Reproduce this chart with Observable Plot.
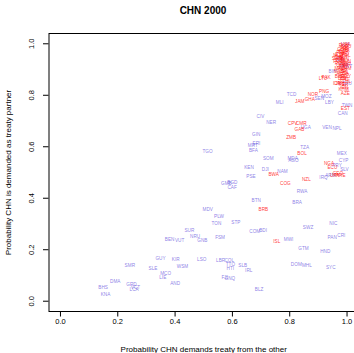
<!DOCTYPE html>
<html><head><meta charset="utf-8">
<script src="https://cdn.jsdelivr.net/npm/d3@7"></script>
<script src="https://cdn.jsdelivr.net/npm/@observablehq/plot@0.6"></script>
<style>
html,body{margin:0;padding:0;background:#fff;overflow:hidden;font-family:"Liberation Sans",Arial,Helvetica,sans-serif}
#title{width:406px;height:22px;line-height:22px;text-align:center;font-weight:bold;font-size:10px;color:#000}
</style></head><body>
<div id="title">CHN 2000</div>
<div id="chart"></div>
<script>
const titleText = "CHN 2000";
const xLabel = "Probability CHN demands treaty from the other";
const yLabel = "Probability CHN is demanded as treaty partner";
const xTicks = [0, 0.2, 0.4, 0.6, 0.8, 1.0];
const yTicks = [0, 0.2, 0.4, 0.6, 0.8, 1.0];

// Countries CHN does not demand (blue)
const blueCodes = ["KNA","BHS","DMA","GRD","VCT","LCA","SMR","SLE","GUY","KIR","WSM","MCO","LIE","AND","LSO","BEN","VUT","NRU","GNB","SUR","FSM","TON","PLW","MDV","STP","COM","BDI","BTN","LBR","COL","TTO","HTI","SLB","IRL","FJI","GNQ","BLZ","MWI","GTM","DOM","MHL","SWZ","NIC","PAN","CRI","HND","SYC","BRA","RWA","IRQ","GMB","BGD","CAF","PSE","KEN","DJI","NAM","SOM","MDA","AGO","TZA","TGO","BFA","MRT","ERI","GIN","CIV","NER","UGA","VEN","NPL","MEX","CYP","SLV","PRY","ARM","TCD","MLI","SEN","MOZ","LBY","TWN","CAN","BIH","SAU","LUX","ISR","QAT","KWT"];
const blueX = [0.157,0.149,0.191,0.248,0.262,0.257,0.242,0.323,0.349,0.402,0.426,0.367,0.357,0.400,0.493,0.381,0.416,0.470,0.495,0.450,0.557,0.544,0.553,0.514,0.612,0.678,0.707,0.683,0.559,0.589,0.593,0.593,0.636,0.657,0.573,0.591,0.693,0.796,0.848,0.823,0.860,0.864,0.952,0.948,0.980,0.924,0.943,0.826,0.843,0.918,0.579,0.600,0.599,0.665,0.658,0.715,0.775,0.725,0.810,0.813,0.852,0.513,0.673,0.671,0.684,0.683,0.698,0.735,0.856,0.930,0.965,0.982,0.988,0.991,0.965,0.942,0.806,0.765,0.903,0.928,0.939,1.000,0.985,0.949,1.000,0.994,0.975,0.988,1.000];
const blueY = [0.025,0.052,0.075,0.065,0.055,0.045,0.138,0.126,0.165,0.162,0.134,0.106,0.091,0.068,0.161,0.241,0.235,0.250,0.235,0.273,0.246,0.302,0.328,0.355,0.305,0.270,0.273,0.390,0.158,0.158,0.143,0.126,0.139,0.119,0.093,0.087,0.044,0.239,0.204,0.141,0.137,0.285,0.302,0.246,0.254,0.193,0.130,0.382,0.425,0.479,0.457,0.461,0.443,0.484,0.519,0.512,0.503,0.554,0.554,0.545,0.597,0.580,0.584,0.604,0.611,0.646,0.719,0.693,0.674,0.674,0.670,0.573,0.545,0.510,0.526,0.488,0.803,0.773,0.786,0.794,0.771,0.760,0.728,0.892,0.845,0.997,0.938,0.915,0.912];

// Countries CHN demands (red)
const redCodes = ["BRB","ISL","COG","NZL","BWA","BOL","ZMB","CPV","CMR","GAB","NGA","ECU","URY","GEO","ARE","JAM","GHA","NOR","PNG","EST","AZE","KHM","IRN","JPN","IDN","LTU","PAK","BHR","USA","RUS","DEU","FRA","GBR","ITA","KOR","PRK","IND","ESP","NLD","BEL","AUT","CHE","SWE","FIN","DNK","POL","HUN","CZE","ROU","TUR","UKR","KAZ","MNG","VNM","THA","MYS","PHL","AUS","CUB","EGY","BLR","PRT","CHL","PER"];
const redX = [0.708,0.755,0.785,0.858,0.744,0.843,0.805,0.810,0.840,0.834,0.937,0.949,0.958,0.968,0.978,0.835,0.870,0.881,0.920,0.994,0.994,0.988,0.990,0.975,0.965,0.916,0.927,0.974,0.995,0.988,0.998,0.992,0.984,0.997,0.988,0.980,0.993,0.975,0.968,0.997,0.988,0.972,0.965,0.993,0.980,0.968,0.997,0.988,0.975,0.997,0.980,0.988,0.975,0.997,0.984,0.972,0.992,0.980,0.988,0.997,0.984,0.992,0.998,0.988];
const redY = [0.355,0.231,0.456,0.472,0.491,0.573,0.635,0.689,0.689,0.667,0.534,0.518,0.488,0.497,0.490,0.776,0.782,0.803,0.815,0.747,0.807,0.822,0.832,0.845,0.845,0.865,0.868,0.873,0.998,0.994,0.988,0.983,0.979,0.974,0.969,0.966,0.962,0.958,0.953,0.953,0.948,0.945,0.941,0.940,0.935,0.932,0.930,0.925,0.922,0.918,0.914,0.908,0.904,0.903,0.898,0.893,0.888,0.884,0.879,0.874,0.866,0.860,0.855,0.843];

const blue = blueCodes.map((c, i) => ({code: c, x: blueX[i], y: blueY[i]}));
const red = redCodes.map((c, i) => ({code: c, x: redX[i], y: redY[i]}));

const font = '"Liberation Sans", Arial, Helvetica, sans-serif';
const labelSize = 4.7;

const chart = Plot.plot({
  width: 354,
  height: 331,
  marginLeft: 48.5,
  marginRight: -4,
  marginTop: 11,
  marginBottom: 42,
  style: {fontFamily: font, fontSize: "7.5px", background: "#fff", color: "#000"},
  x: {domain: [-0.04, 1.04]},
  y: {domain: [-0.04, 1.04]},
  marks: [
    Plot.axisX({ticks: xTicks, tickSize: 5.5, tickPadding: 2, tickFormat: d3.format(".1f"), label: null, fontSize: 7.5}),
    Plot.axisY({ticks: yTicks, tickSize: 5.5, tickFormat: () => "", label: null}),
    Plot.text(yTicks, {y: d => d, text: d3.format(".1f"), frameAnchor: "left", dx: -17, rotate: -90, textAnchor: "middle", lineAnchor: "middle", fontSize: 7.5, fill: "#000"}),
    Plot.text(blue, {x: "x", y: "y", text: "code", fill: "#7060e0", fillOpacity: 0.8, fontSize: labelSize, textAnchor: "middle", lineAnchor: "middle"}),
    Plot.text(red, {x: "x", y: "y", text: "code", fill: "#ff0000", fillOpacity: 0.8, fontSize: labelSize, textAnchor: "middle", lineAnchor: "middle"}),
    Plot.frame({stroke: "#000", strokeWidth: 1}),
    Plot.text([xLabel], {frameAnchor: "bottom", dy: 38, fontSize: 8, fill: "#000", lineAnchor: "middle"}),
    Plot.text([yLabel], {frameAnchor: "left", dx: -40.5, rotate: -90, fontSize: 8, fill: "#000", lineAnchor: "middle", textAnchor: "middle"})
  ]
});
document.getElementById("chart").appendChild(chart);
</script>
</body></html>
